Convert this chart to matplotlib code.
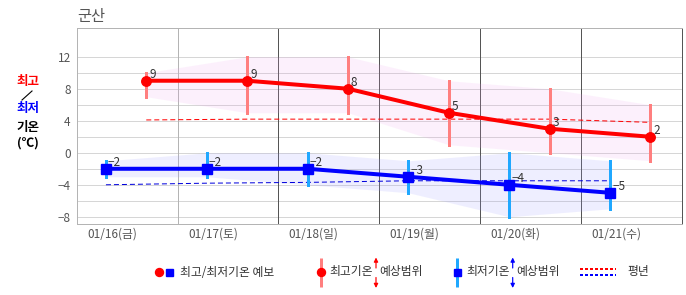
import matplotlib
matplotlib.use('Agg')
import matplotlib.pyplot as plt
from matplotlib.lines import Line2D
import numpy as np

plt.rcParams['font.family'] = ['Noto Sans CJK KR', 'DejaVu Sans']

title = "군산"
dates = ["01/16(금)", "01/17(토)", "01/18(일)", "01/19(월)", "01/20(화)", "01/21(수)"]
max_temp = [9, 9, 8, 5, 3, 2]
min_temp = [-2, -2, -2, -3, -4, -5]
max_hi = [10, 12, 12, 9, 8, 6]
max_lo = [7, 5, 5, 1, 0, -1]
min_hi = [-1, 0, 0, -1, 0, -1]
min_lo = [-3, -3, -4, -5, -8, -7]
normal_max = [4.1, 4.2, 4.2, 4.2, 4.2, 3.8]
normal_min = [-4.0, -3.8, -3.7, -3.5, -3.5, -3.5]
y_ticks = [12, 8, 4, 0, -4, -8]

W, H = 686, 295
fig = plt.figure(figsize=(W / 100, H / 100), dpi=100)


def fx(x):
    return x / W


def fy(y):
    return 1 - y / H


PX = 0.72  # points per pixel

ax = fig.add_axes([fx(76.7), fy(224), (681.7 - 76.7) / W, (224 - 28.3) / H])
ax.set_xlim(0, 6)
ax.set_ylim(-8.9, 15.55)

n = len(dates)
day = np.arange(n)
x_max = day + 0.69
x_min = day + 0.29
x_lab = day + 0.35

# grid
for v in range(-8, 13, 2):
    ax.axhline(v, color='#d6d6d6', lw=1 * PX, zorder=0.5)
ax.axvline(1, color='#b4b4b4', lw=1 * PX, zorder=0.5)
for k in range(2, 6):
    ax.axvline(k, color='#555555', lw=1 * PX, zorder=0.5)
for s in ['left', 'top', 'bottom']:
    ax.spines[s].set_color('#b4b4b4')
    ax.spines[s].set_linewidth(1 * PX)
ax.spines['right'].set_color('#555555')
ax.spines['right'].set_linewidth(1 * PX)

# bands
ax.fill_between(x_max, max_lo, max_hi, color='#f0a0f0', alpha=0.15, lw=0, zorder=1)
ax.fill_between(x_min, min_lo, min_hi, color='#a0a0ff', alpha=0.17, lw=0, zorder=1)

# normals
ax.plot(x_max, normal_max, color='#ff0000', lw=1 * PX, ls=(0, (5, 3)), zorder=2)
ax.plot(x_min, normal_min, color='#0000dd', lw=1 * PX, ls=(0, (5, 3)), zorder=2)

# range bars
vr = ax.vlines(x_max, max_lo, max_hi, color='#ff7f7f', lw=3 * PX, zorder=3)
vr.set_capstyle('projecting')
vb = ax.vlines(x_min, min_lo, min_hi, color='#20a8ff', lw=3 * PX, zorder=3)
vb.set_capstyle('projecting')

# main lines
ax.plot(x_max, max_temp, color='#ff0000', lw=4 * PX, zorder=4,
        marker='o', ms=9.5 * PX, mec='#ff0000', mfc='#ff0000')
ax.plot(x_min, min_temp, color='#0000ff', lw=4 * PX, zorder=4,
        marker='s', ms=9.5 * PX, mec='#0000ff', mfc='#0000ff')

for x, v in zip(x_max, max_temp):
    ax.annotate(f"{v}".replace('-', '−'), (x, v), xytext=(3, 3), textcoords='offset pixels',
                ha='left', va='baseline', fontsize=8.5, color='#333333', zorder=6)
for x, v in zip(x_min, min_temp):
    ax.annotate(f"{v}".replace('-', '−'), (x, v), xytext=(2, 3), textcoords='offset pixels',
                ha='left', va='baseline', fontsize=8.5, color='#333333', zorder=6)

# ticks
ax.set_yticks(y_ticks)
ax.set_yticklabels([f"{t}".replace('-', '−') for t in y_ticks])
ax.set_xticks(x_lab)
ax.set_xticklabels(dates)
ax.tick_params(axis='both', length=0, labelsize=8.5, labelcolor='#555555')
ax.tick_params(axis='y', pad=4.3)
ax.tick_params(axis='x', pad=2.5)

# title
fig.text(fx(77), fy(16.5), title, fontsize=11, color='#555555', ha='left', va='center')

# left y label
fs_lab = 9
fig.text(fx(28), fy(81), '최고', color='#ff0000', fontsize=fs_lab, weight='bold', ha='center', va='center')
fig.add_artist(Line2D([fx(22), fx(32)], [fy(100), fy(91)], color='black', lw=0.8))
fig.text(fx(28), fy(109), '최저', color='#0000ff', fontsize=fs_lab, weight='bold', ha='center', va='center')
fig.text(fx(28), fy(127), '기온', color='black', fontsize=fs_lab, weight='bold', ha='center', va='center')
fig.text(fx(28), fy(143), '(℃)', color='black', fontsize=fs_lab, weight='bold', ha='center', va='center')

# legend
LY = 272
fs_leg = 8.5
fig.add_artist(Line2D([fx(159)], [fy(LY)], marker='o', color='#ff0000', ms=8 * PX, ls='none'))
fig.add_artist(Line2D([fx(168.5)], [fy(LY)], marker='s', color='#0000ff', ms=7 * PX, ls='none'))
fig.text(fx(180), fy(LY), '최고/최저기온 예보', fontsize=fs_leg, color='#333333', ha='left', va='center')

fig.add_artist(Line2D([fx(320.7)] * 2, [fy(258), fy(287)], color='#ff7f7f', lw=3 * PX, solid_capstyle='butt'))
fig.add_artist(Line2D([fx(320.7)], [fy(LY)], marker='o', color='#ff0000', ms=8 * PX, ls='none'))
fig.text(fx(329.5), fy(LY), '최고기온', fontsize=fs_leg, color='#333333', ha='left', va='center')
fig.text(fx(379), fy(LY), '예상범위', fontsize=fs_leg, color='#333333', ha='left', va='center')

fig.add_artist(Line2D([fx(457.3)] * 2, [fy(258), fy(287)], color='#20a8ff', lw=3 * PX, solid_capstyle='butt'))
fig.add_artist(Line2D([fx(457.3)], [fy(LY)], marker='s', color='#0000ff', ms=7 * PX, ls='none'))
fig.text(fx(466), fy(LY), '최저기온', fontsize=fs_leg, color='#333333', ha='left', va='center')
fig.text(fx(516), fy(LY), '예상범위', fontsize=fs_leg, color='#333333', ha='left', va='center')

for xa, col in [(376, '#ff0000'), (512.7, '#0000ff')]:
    fig.add_artist(matplotlib.patches.FancyArrowPatch(
        (fx(xa), fy(268)), (fx(xa), fy(257.5)), transform=fig.transFigure,
        arrowstyle='-|>', mutation_scale=6, color=col, lw=1.2 * PX, shrinkA=0, shrinkB=0))
    fig.add_artist(matplotlib.patches.FancyArrowPatch(
        (fx(xa), fy(277.5)), (fx(xa), fy(288)), transform=fig.transFigure,
        arrowstyle='-|>', mutation_scale=6, color=col, lw=1.2 * PX, shrinkA=0, shrinkB=0))

fig.add_artist(Line2D([fx(580), fx(616)], [fy(269)] * 2, color='#ff0000', lw=2 * PX, ls=(0, (1.5, 1))))
fig.add_artist(Line2D([fx(580), fx(616)], [fy(275)] * 2, color='#0000ff', lw=2 * PX, ls=(0, (1.5, 1))))
fig.text(fx(627), fy(LY), '평년', fontsize=fs_leg, color='#333333', ha='left', va='center')

fig.savefig('out.png', dpi=100)
